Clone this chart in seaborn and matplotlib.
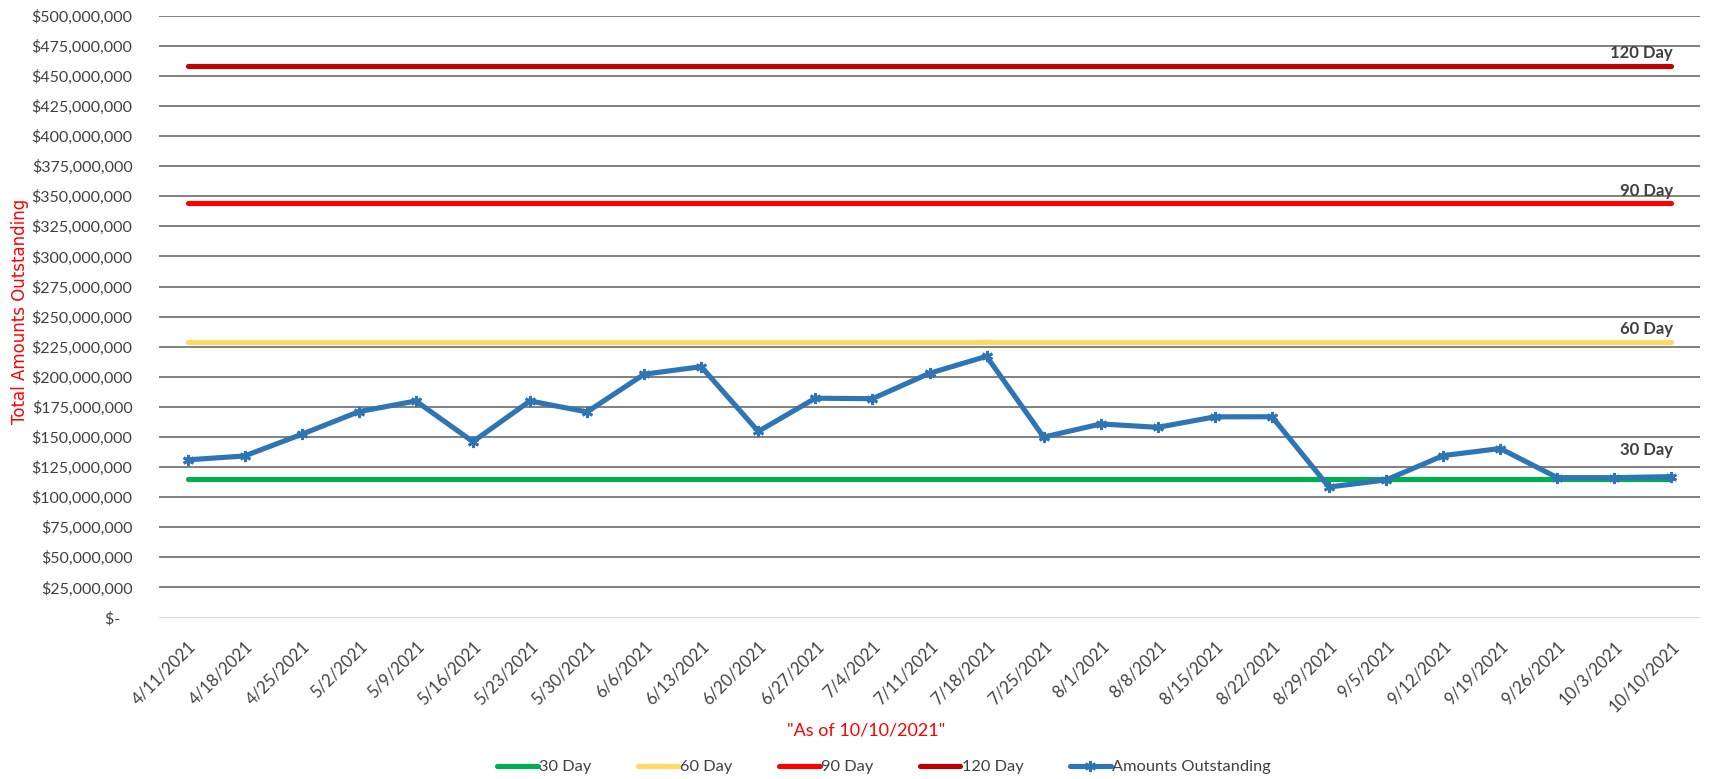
import matplotlib
matplotlib.use("Agg")
import matplotlib.pyplot as plt
from matplotlib.ticker import FuncFormatter, MultipleLocator
import seaborn as sns

# ---- data ----
dates = ["4/11/2021", "4/18/2021", "4/25/2021", "5/2/2021", "5/9/2021", "5/16/2021",
         "5/23/2021", "5/30/2021", "6/6/2021", "6/13/2021", "6/20/2021", "6/27/2021",
         "7/4/2021", "7/11/2021", "7/18/2021", "7/25/2021", "8/1/2021", "8/8/2021",
         "8/15/2021", "8/22/2021", "8/29/2021", "9/5/2021", "9/12/2021", "9/19/2021",
         "9/26/2021", "10/3/2021", "10/10/2021"]
amounts = [131.0e6, 134.2e6, 152.2e6, 171.0e6, 179.9e6, 146.1e6,
           179.9e6, 170.8e6, 202.1e6, 208.4e6, 154.6e6, 182.2e6,
           181.8e6, 202.9e6, 217.0e6, 149.9e6, 160.8e6, 158.0e6,
           166.7e6, 166.8e6, 108.4e6, 114.3e6, 134.5e6, 140.4e6,
           116.2e6, 116.2e6, 117.0e6]
threshold_names = ["30 Day", "60 Day", "90 Day", "120 Day"]
threshold_values = [115.0e6, 229.2e6, 344.0e6, 458.5e6]
threshold_colors = ["#00B050", "#FFD966", "#FF0000", "#C00000"]
series_name = "Amounts Outstanding"
series_color = "#2E75B6"
y_label = "Total Amounts Outstanding"
x_title = '"As of 10/10/2021"'

# ---- style ----
sns.set_theme(style="white")
plt.rcParams["font.family"] = ["Lato", "DejaVu Sans"]
txt_color = "#404040"

fig = plt.figure(figsize=(17.10, 7.79), dpi=100)
ax = fig.add_axes([159 / 1710, 1 - 617.5 / 779, (1700 - 159) / 1710, (617.5 - 15.7) / 779])

lw = 3.7
# main series first so the category order follows the dates list
sns.lineplot(x=dates, y=amounts, ax=ax, color=series_color, linewidth=lw, sort=False,
             marker=(6, 2, 0), markersize=8, markeredgewidth=2.0,
             markeredgecolor=series_color, solid_capstyle="round",
             solid_joinstyle="round", zorder=4)
series_handle = ax.lines[-1]

label_offsets = [15, 3, 3, 3]  # points above each threshold line
handles = []
for name, val, col, off in zip(threshold_names, threshold_values, threshold_colors, label_offsets):
    sns.lineplot(x=[dates[0], dates[-1]], y=[val, val], ax=ax, color=col, linewidth=lw,
                 sort=False, solid_capstyle="round", zorder=3)
    handles.append(ax.lines[-1])
    ax.annotate(name, xy=(len(dates) - 1, val), xytext=(1, off), textcoords="offset points",
                ha="right", va="bottom", fontsize=12, fontweight="bold", color=txt_color,
                zorder=5)
handles.append(series_handle)

ax.set_xlim(-0.5, len(dates) - 0.5)
ax.set_ylim(0, 500e6)
ax.yaxis.set_major_locator(MultipleLocator(25e6))
ax.yaxis.set_major_formatter(FuncFormatter(lambda v, p: "$-   " if v == 0 else f"${v:,.0f}"))

# gridlines
ax.grid(False)
for v in ax.get_yticks():
    if 0 <= v <= 500e6:
        ax.axhline(v, color="#d9d9d9" if v == 0 else "#808080", linewidth=1.4, zorder=1)

for s in ax.spines.values():
    s.set_visible(False)

ax.tick_params(axis="y", length=0, pad=19, labelsize=11.5, labelcolor=txt_color)
ax.tick_params(axis="x", length=0, pad=15, labelsize=12, labelcolor=txt_color)
for lab in ax.get_xticklabels():
    lab.set_rotation(45)
    lab.set_ha("right")
    lab.set_va("top")
    lab.set_rotation_mode("anchor")

ax.set_xlabel("")
ax.set_ylabel("")
fig.text(20 / 1710, 1 - 311 / 779, y_label, rotation=90, ha="center", va="center",
         color="#FF0000", fontsize=12, family="DejaVu Sans")
fig.text(866 / 1710, 1 - 730 / 779, x_title, ha="center", va="center",
         color="#FF0000", fontsize=13)

fig.legend(handles, threshold_names + [series_name], loc="center",
           bbox_to_anchor=(884 / 1710, 1 - 767 / 779), ncol=5, frameon=False,
           fontsize=11.8, handlelength=2.5, handletextpad=0.1, columnspacing=2.8,
           labelcolor=txt_color)

fig.savefig("out.png", dpi=100)
